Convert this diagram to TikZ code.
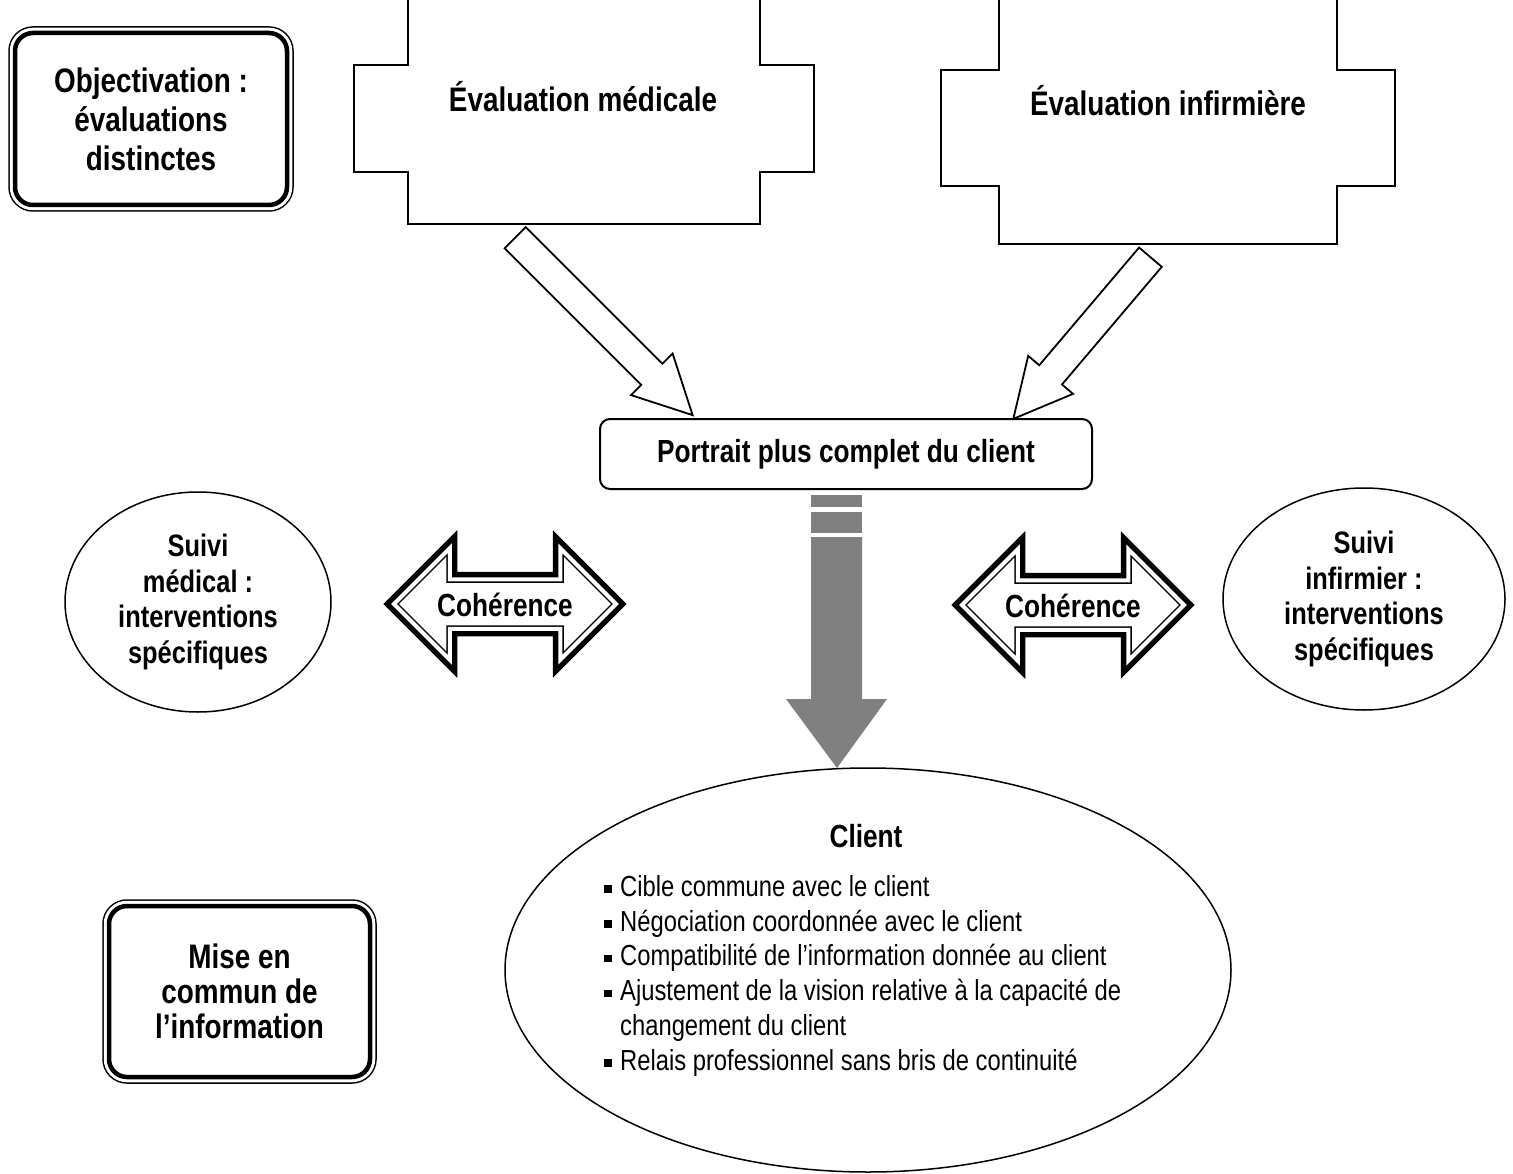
\documentclass[tikz,border=0pt]{standalone}
\usepackage{fontspec}
\setmainfont{Liberation Sans}[FakeStretch=0.82]
\usetikzlibrary{shapes.geometric,shapes.arrows}

% petit carre noir des puces
\newcommand\puce{\makebox[16pt][l]{\rule[3.5pt]{7.5pt}{7.5pt}}}

\begin{document}
\begin{tikzpicture}[x=1pt,y=-1pt,line join=miter,
  lbl/.style={align=center,inner sep=0pt,font=\fontsize{34}{39}\selectfont\bfseries},
  cadre/.style={draw,line width=4.5pt,rounded corners=18pt,fill=white,
    preaction={draw,line width=13.5pt},preaction={draw=white,line width=10.5pt},
    align=center,inner sep=0pt,font=\fontsize{34}{39}\selectfont\bfseries},
  plaque/.style={draw,line width=2pt},
  creuse/.style={single arrow,draw,line width=1.8pt,fill=white,inner xsep=0pt,inner ysep=14pt,
    text height=0pt,text depth=0pt,single arrow head extend=14.5pt,single arrow tip angle=54},
  coh/.style={double arrow,draw,line width=1.5pt,double=white,double distance=4pt,fill=white,
    preaction={draw,line width=15pt},double arrow tip angle=90,double arrow head extend=31pt,
    minimum height=222pt,inner xsep=0pt,inner ysep=12pt,text height=24pt,text depth=0pt,
    font=\fontsize{32}{36}\selectfont\bfseries},
  suivi/.style={ellipse,draw,line width=1.5pt,inner sep=0pt,align=center,
    font=\fontsize{31}{35.5}\selectfont\bfseries}]
  \useasboundingbox (0,0) rectangle (1513,1174);
  \clip (0,0) rectangle (1513,1174);

  % cadres a gauche
  \node[cadre,minimum width=272pt,minimum height=172pt] (obj) at (151,119)
    {Objectivation :\\évaluations\\distinctes};
  \node[cadre,minimum width=261pt,minimum height=171pt,font=\fontsize{34}{35}\selectfont\bfseries]
    (mise) at (239.5,991.5) {Mise en\\commun de\\l’information};

  % evaluations
  \draw[plaque] (408,-30) -- (408,65) -- (354,65) -- (354,172) -- (408,172) -- (408,224)
    -- (760,224) -- (760,172) -- (814,172) -- (814,65) -- (760,65) -- (760,-30);
  \node[lbl] (med) at (583,97) {Évaluation médicale};
  \draw[plaque] (999,-30) -- (999,70) -- (941,70) -- (941,186) -- (999,186) -- (999,244)
    -- (1337,244) -- (1337,186) -- (1395,186) -- (1395,70) -- (1337,70) -- (1337,-30);
  \node[lbl] (inf) at (1168,101) {Évaluation infirmière};

  \node[creuse,minimum height=251pt,rotate=-45,anchor=tail] (fmed) at (514.5,237) {};
  \node[creuse,minimum height=212pt,rotate=-130.3,anchor=tail] (finf) at (1151,256.5) {};

  \node[draw,line width=2pt,rounded corners=10pt,minimum width=492pt,minimum height=70pt,
    font=\fontsize{32}{36}\selectfont\bfseries] (port) at (846,454) {Portrait plus complet du client};

  % fleche grise
  \fill[gray] (811,495) rectangle (862,507);
  \fill[gray] (811,512) rectangle (862,533);
  \fill[gray] (811,537) -- (811,699) -- (786,699) -- (837,768) -- (887,699) -- (862,699)
    -- (862,537) -- cycle;

  % suivis
  \node[suivi,minimum width=266pt,minimum height=220pt] (smed) at (198,602)
    {Suivi\\médical :\\interventions\\spécifiques};
  \node[suivi,minimum width=282pt,minimum height=222pt] (sinf) at (1364,599)
    {Suivi\\infirmier :\\interventions\\spécifiques};
  \node[coh] (c1) at (505,604) {\makebox[0pt]{Cohérence}};
  \node[coh] (c2) at (1073,605) {\makebox[0pt]{Cohérence}};

  % client
  \node[ellipse,draw,line width=1.5pt,minimum width=726pt,minimum height=404pt] (cli) at (868,970) {};
  \node[font=\fontsize{32}{36}\selectfont\bfseries] (ctit) at (866,836) {Client};
  \node[anchor=north west,align=left,inner sep=0pt,font=\fontsize{29}{34.8}\selectfont] (clist) at (604,875)
    {\puce Cible commune avec le client\\
     \puce Négociation coordonnée avec le client\\
     \puce Compatibilité de l’information donnée au client\\
     \puce Ajustement de la vision relative à la capacité de\\
     \hspace*{16pt}changement du client\\
     \puce Relais professionnel sans bris de continuité};
\end{tikzpicture}
\end{document}
